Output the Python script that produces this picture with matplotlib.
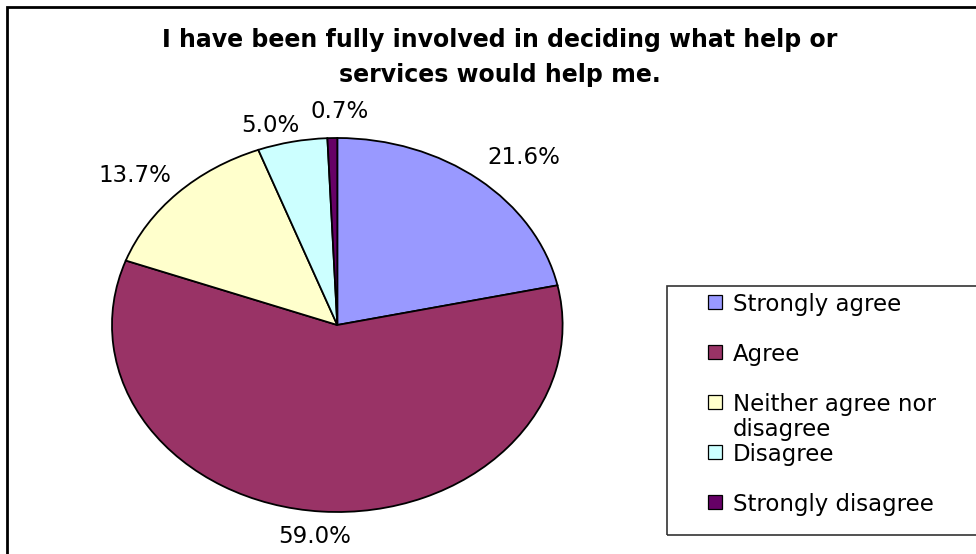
import matplotlib
matplotlib.use("Agg")
import matplotlib.pyplot as plt
from matplotlib.patches import Rectangle
import numpy as np

# ---- data ----
categories = ["Strongly agree", "Agree", "Neither agree nor\ndisagree", "Disagree", "Strongly disagree"]
values = [21.6, 59.0, 13.7, 5.0, 0.7]
colors = ["#9999FF", "#993366", "#FFFFCC", "#CCFFFF", "#660066"]
title = "I have been fully involved in deciding what help or\nservices would help me."

# small per-label nudges (pixels) mimicking Excel's label placement
label_nudges = [(6, -2), (-3, 0), (1, 0), (-10, 8), (9, -2)]

W, H = 976, 554
plt.rcParams['font.family'] = ['DejaVu Sans']

fig = plt.figure(figsize=(W / 100, H / 100), dpi=100)
fig.patch.set_facecolor("white")


def fx(x):
    return x / W


def fy(y):
    return 1 - y / H


# outer chart frame (extends beyond the right/bottom edge, as in the reference)
fig.add_artist(Rectangle((fx(7), fy(620)), (1100 - 7) / W, (620 - 7) / H,
                         transform=fig.transFigure, fill=False,
                         edgecolor="black", linewidth=2.0))

# title
fig.text(fx(500), fy(28), title, ha="center", va="top", fontsize=17,
         fontweight="bold", linespacing=1.6)

# pie (elliptical)
cx, cy, rx, ry = 337.3, 325.0, 225.3, 187.0
ax = fig.add_axes([fx(cx - rx), fy(cy + ry), 2 * rx / W, 2 * ry / H])
wedges, _ = ax.pie(values, colors=colors, startangle=90, counterclock=False,
                   wedgeprops=dict(edgecolor="black", linewidth=1.3))
ax.set_aspect("auto")
ax.set_xlim(-1, 1)
ax.set_ylim(-1, 1)
ax.axis("off")
for w in wedges:
    w.set_clip_on(False)

for w, v, (nx, ny) in zip(wedges, values, label_nudges):
    th = np.deg2rad((w.theta1 + w.theta2) / 2)
    c, s = np.cos(th), np.sin(th)
    ax.annotate(f"{v:.1f}%", xy=(c, s),
                xytext=((62 * c + nx) * 0.72, (25 * s - ny) * 0.72),
                textcoords="offset points", ha="center", va="center",
                fontsize=16.5, annotation_clip=False)

# legend box
fig.add_artist(Rectangle((fx(667), fy(535)), (1100 - 667) / W, (535 - 286) / H,
                         transform=fig.transFigure, fill=False,
                         edgecolor="#333333", linewidth=1.2))
row0, step = 302, 50
for i, (lab, col) in enumerate(zip(categories, colors)):
    yc = row0 + i * step
    fig.add_artist(Rectangle((fx(708), fy(yc + 7)), 14 / W, 14 / H,
                             transform=fig.transFigure, facecolor=col,
                             edgecolor="black", linewidth=0.9))
    fig.text(fx(733), fy(yc - 9.5), lab, ha="left", va="top", fontsize=16.5,
             linespacing=1.12)

fig.savefig("out.png", dpi=100)
